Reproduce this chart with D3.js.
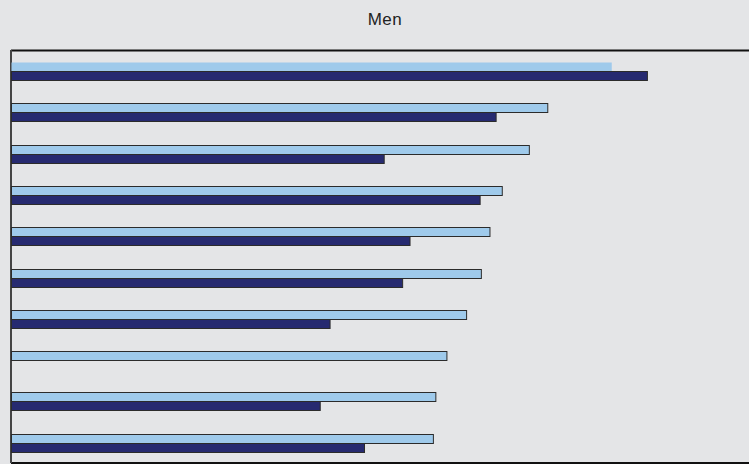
<!DOCTYPE html>
<meta charset="utf-8">
<style>
body { margin: 0; background: #e4e5e7; }
svg { display: block; background: #e4e5e7; }
.title { font-family: "Liberation Sans", Arial, sans-serif; font-size: 17px; fill: #222; }
</style>
<svg width="749" height="464"></svg>
<script src="https://cdn.jsdelivr.net/npm/d3@7/dist/d3.min.js"></script>
<script>

// groups, top to bottom (no labels shown in the original)
var groups = ["g1", "g2", "g3", "g4", "g5", "g6", "g7", "g8", "g9", "g10"];

// two series, values (arbitrary units)
var lightValues = [48.8, 43.6, 42.1, 39.9, 38.9, 38.2, 37.0, 35.4, 34.5, 34.3];
var darkValues  = [51.7, 39.4, 30.3, 38.1, 32.4, 31.8, 25.9, null, 25.1, 28.7];

var svg = d3.select("svg"),
    margin = {top: 50, right: 0, bottom: 1, left: 11},
    width = +svg.attr("width") - margin.left - margin.right,
    height = +svg.attr("height") - margin.top - margin.bottom;

var x = d3.scaleLinear().domain([0, 60]).range([0, width]);
var y = d3.scaleBand().domain(groups).range([0, height]);

var barH = 9, barOff = 12;

svg.append("text")
    .attr("class", "title")
    .attr("x", 385)
    .attr("y", 25)
    .attr("text-anchor", "middle")
    .attr("letter-spacing", "0.5px")
    .text("Men");

var g = svg.append("g")
    .attr("transform", "translate(" + margin.left + "," + margin.top + ")");

// frame: top, left and bottom lines
g.append("line").attr("x1", 0).attr("x2", width).attr("y1", 0.5).attr("y2", 0.5)
    .attr("stroke", "#111").attr("stroke-width", 2);
g.append("line").attr("x1", 0).attr("x2", width).attr("y1", height).attr("y2", height)
    .attr("stroke", "#111").attr("stroke-width", 2);
g.append("line").attr("x1", 0).attr("x2", 0).attr("y1", 0).attr("y2", height)
    .attr("stroke", "#444").attr("stroke-width", 2);

var light = groups.map(function(k, i) { return {key: k, v: lightValues[i], i: i}; });
var dark = groups.map(function(k, i) { return {key: k, v: darkValues[i], i: i}; })
    .filter(function(d) { return d.v != null; });

g.selectAll(".light")
  .data(light)
  .enter().append("rect")
    .attr("class", "light")
    .attr("x", 0.5)
    .attr("y", function(d) { return Math.round(y(d.key)) + barOff + 0.5; })
    .attr("width", function(d) { return x(d.v); })
    .attr("height", barH)
    .attr("fill", "#9fcaeb")
    .attr("stroke", function(d) { return d.i === 0 ? "none" : "#2b2b2b"; });

g.selectAll(".dark")
  .data(dark)
  .enter().append("rect")
    .attr("class", "dark")
    .attr("x", 0.5)
    .attr("y", function(d) { return Math.round(y(d.key)) + barOff + barH + 0.5; })
    .attr("width", function(d) { return x(d.v); })
    .attr("height", barH)
    .attr("fill", "#262a70")
    .attr("stroke", "#2b2b2b");

</script>
